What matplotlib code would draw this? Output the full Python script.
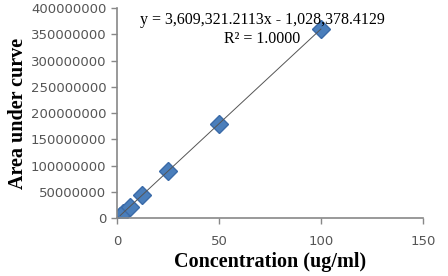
import matplotlib
matplotlib.use("Agg")
import matplotlib.pyplot as plt
import numpy as np

# concentration (ug/ml) and peak area
conc = [1.5625, 3.125, 6.25, 12.5, 25, 50, 100]
area = [4600000, 10300000, 21500000, 44100000, 89200000, 179400000, 359900000]

slope = 3609321.2113
intercept = -1028378.4129

fig = plt.figure(figsize=(4.48, 2.76), dpi=100)
ax = fig.add_axes([0.261, 0.21, 0.683, 0.761])

xs = np.array([min(conc), max(conc)])
ax.plot(xs, slope * xs + intercept, color="#555555", lw=0.7, zorder=3)
ax.plot(conc, area, linestyle="none", marker="D", ms=9, color="#4a7ebb",
        markeredgecolor="#3a6aa8", zorder=2)

ax.set_xlim(0, 150)
ax.set_ylim(0, 400000000)
ax.set_xticks([0, 50, 100, 150])
ax.set_yticks(np.arange(0, 400000001, 50000000))
ax.ticklabel_format(style="plain", axis="y", useOffset=False)

for s in ["top", "right"]:
    ax.spines[s].set_visible(False)
for s in ["left", "bottom"]:
    ax.spines[s].set_color("#888888")
    ax.spines[s].set_linewidth(1.2)
ax.tick_params(colors="#888888", labelcolor="#555555", length=4, width=1)
ax.tick_params(axis="x", pad=8)
for lab in ax.get_xticklabels() + ax.get_yticklabels():
    lab.set_family("DejaVu Sans")
    lab.set_fontsize(9.5)

ax.set_xlabel("Concentration (ug/ml)", family="Liberation Serif",
              fontweight="bold", fontsize=14.5, labelpad=3)
ax.set_ylabel("Area under curve", family="Liberation Serif",
              fontweight="bold", fontsize=14.5, labelpad=2)

fig.text(0.585, 0.928, "y = 3,609,321.2113x - 1,028,378.4129", ha="center",
         va="center", family="Liberation Serif", fontsize=11.5)
fig.text(0.585, 0.858, "R² = 1.0000", ha="center", va="center",
         family="Liberation Serif", fontsize=11.5)

fig.savefig("out.png", dpi=100)
